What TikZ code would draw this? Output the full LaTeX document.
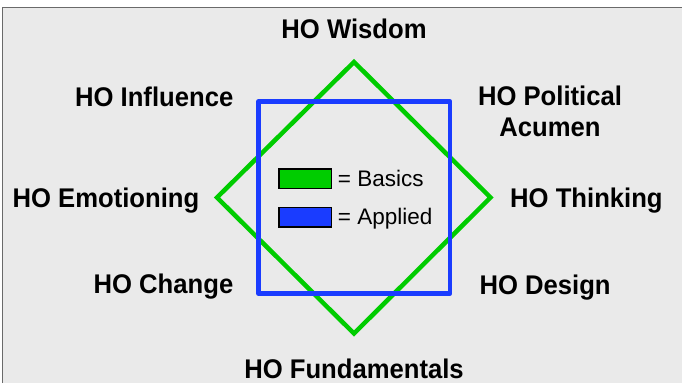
\documentclass[tikz,border=0pt]{standalone}
\usepackage{fontspec}
\setmainfont{Liberation Sans}
\newfontfamily\labelfont{Liberation Sans}[FakeStretch=0.95]
\definecolor{bgray}{HTML}{EAEAEA}
\definecolor{framegray}{HTML}{6A6A6A}
\definecolor{basicgreen}{HTML}{00CC00}
\definecolor{appliedblue}{HTML}{1A3CFF}
\tikzset{
  hol/.style={inner sep=0pt, font=\labelfont\bfseries\fontsize{27}{31.7}\selectfont},
  legtext/.style={inner sep=0pt, font=\fontsize{22.5}{26}\selectfont},
  legbox/.style={draw=black, line width=1.6pt, minimum width=52.4pt, minimum height=19.4pt, inner sep=0pt},
  shapeline/.style={line width=4.5pt},
}
\begin{document}
\begin{tikzpicture}[x=1pt,y=-1pt]
\useasboundingbox (0,0) rectangle (682,383);
\fill[white] (0,0) rectangle (682,383);
\fill[bgray] (2.5,7.5) rectangle (682,383);
\draw[framegray, line width=1.5pt] (2.5,383) -- (2.5,7.5) -- (682,7.5);
% shapes
\coordinate (dT) at (354,62);
\coordinate (dR) at (490.5,197.5);
\coordinate (dB) at (354,333.5);
\coordinate (dL) at (217,197.5);
\draw[basicgreen, shapeline, line join=miter] (dT) -- (dR) -- (dB) -- (dL) -- cycle;
\coordinate (sA) at (258.5,101.5);
\coordinate (sB) at (450,293.5);
\draw[appliedblue, shapeline, line join=round] (sA) rectangle (sB);
% legend
\node[legbox, fill=basicgreen] (lg) at (305.3,178.8) {};
\node[legbox, fill=appliedblue] (lb) at (305.3,217.2) {};
\node[legtext, anchor=base west] (tg) at (337.7,186) {= Basics};
\node[legtext, anchor=base west] (tb) at (337.7,224) {= Applied};
% labels
\node[hol, anchor=base] (wis) at (354,38.3) {HO Wisdom};
\node[hol, anchor=base east] (inf) at (233.5,106.7) {HO Influence};
\node[hol, anchor=base east] (emo) at (199.5,207.7) {HO Emotioning};
\node[hol, anchor=base east] (chg) at (233.5,293.5) {HO Change};
\node[hol, anchor=base, align=center] (pol) at (550,136.7) {HO Political\\Acumen};
\node[hol, anchor=base west] (thk) at (510,207.7) {HO Thinking};
\node[hol, anchor=base west] (des) at (479.3,294) {HO Design};
\node[hol, anchor=base] (fun) at (354,378.3) {HO Fundamentals};
\end{tikzpicture}
\end{document}
